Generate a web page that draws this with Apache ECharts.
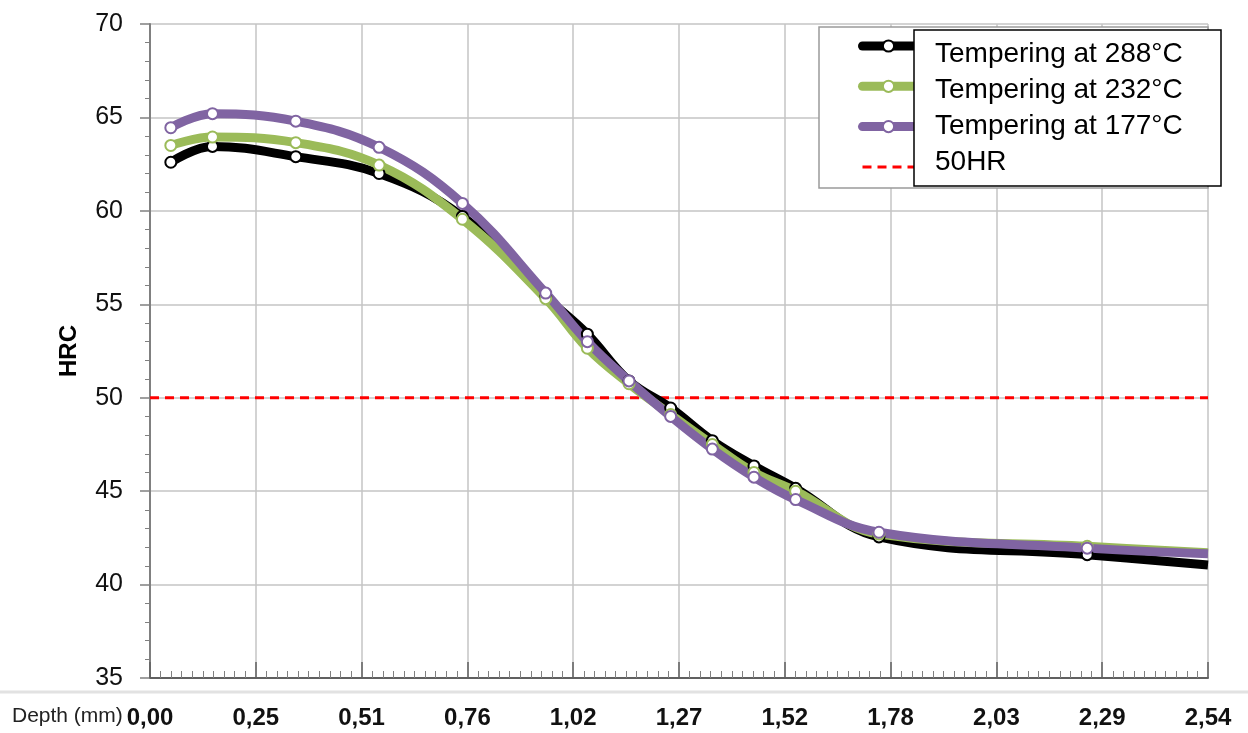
<!DOCTYPE html>
<html>
<head>
<meta charset="utf-8">
<script src="https://cdn.jsdelivr.net/npm/echarts@6/dist/echarts.min.js"></script>
<style>
  html, body { margin: 0; padding: 0; background: #fff; }
  #chart { width: 1248px; height: 733px; }
</style>
</head>
<body>
<div id="chart"></div>
<script>
// depth in mm, hardness in HRC
var depth = [0.05, 0.15, 0.35, 0.55, 0.75, 0.95, 1.05, 1.15, 1.25, 1.35, 1.45, 1.55, 1.75, 2.25, 2.54]
var hrc288 = [62.6, 63.45, 62.9, 62.0, 59.7, 55.4, 53.4, 50.9, 49.45, 47.7, 46.35, 45.15, 42.55, 41.6, 41.05]
var hrc232 = [63.5, 63.95, 63.65, 62.45, 59.55, 55.3, 52.65, 50.75, 49.1, 47.5, 46.0, 45.0, 42.7, 42.05, 41.7]
var hrc177 = [64.45, 65.2, 64.8, 63.4, 60.4, 55.6, 53.0, 50.9, 49.0, 47.25, 45.75, 44.55, 42.8, 41.95, 41.65]
var limitX = [0, 2.54]
var limitY = [50, 50]
var seriesNames = ['Tempering at 288°C', 'Tempering at 232°C', 'Tempering at 177°C', '50HR']

var font = "'Liberation Sans', Arial, sans-serif"

function points(ys) {
    return depth.map(function (x, i) {
        var p = { value: [x, ys[i]] }
        // last point sits on the plot edge, no marker there
        if (i === depth.length - 1) p.symbol = 'none'
        return p
    })
}

function curve(name, ys, color) {
    return {
        name: name,
        type: 'line',
        smooth: 0.4,
        data: points(ys),
        symbol: 'circle',
        symbolSize: 11,
        lineStyle: { color: color, width: 9 },
        itemStyle: { color: '#fff', borderColor: color, borderWidth: 2 }
    }
}

var chart = echarts.init(document.getElementById('chart'))
chart.setOption({
    animation: false,
    grid: { left: 150, right: 40, top: 24, bottom: 55 },
    legend: {
        orient: 'vertical',
        left: 858,
        top: 39,
        padding: 0,
        itemWidth: 52,
        itemHeight: 14,
        itemGap: 26.3,
        textStyle: { fontSize: 14, fontFamily: font, color: '#000' },
        data: [
            { name: seriesNames[0], lineStyle: { width: 9, cap: 'round' } },
            { name: seriesNames[1], lineStyle: { width: 9, cap: 'round' } },
            { name: seriesNames[2], lineStyle: { width: 9, cap: 'round' } },
            { name: seriesNames[3], lineStyle: { width: 3 }, itemStyle: { opacity: 0 } }
        ]
    },
    xAxis: {
        type: 'value',
        min: 0,
        max: 2.54,
        interval: 0.254,
        axisLine: { lineStyle: { color: '#606060', width: 2 } },
        axisTick: { inside: true, length: 16, lineStyle: { color: '#606060', width: 1.5 } },
        minorTick: { show: true, splitNumber: 10, length: 7, lineStyle: { color: '#808080' } },
        splitLine: { show: true, lineStyle: { color: '#c4c4c4', width: 1.5 } },
        axisLabel: {
            margin: 28,
            fontSize: 24,
            fontWeight: 'bold',
            fontFamily: "'Liberation Sans Narrow', " + font,
            color: '#111',
            formatter: function (v) { return v.toFixed(2).replace('.', ',') }
        }
    },
    yAxis: {
        type: 'value',
        min: 35,
        max: 70,
        interval: 5,
        name: 'HRC',
        nameLocation: 'middle',
        nameGap: 69,
        nameTextStyle: { fontSize: 24, fontWeight: 'bold', fontFamily: font, color: '#000' },
        axisLine: { show: true, lineStyle: { color: '#808080', width: 2 } },
        axisTick: { show: true, length: 10, lineStyle: { color: '#808080', width: 1.5 } },
        minorTick: { show: true, splitNumber: 5, length: 5, lineStyle: { color: '#808080' } },
        splitLine: { show: true, lineStyle: { color: '#c4c4c4', width: 1.5 } },
        axisLabel: { margin: 27, fontSize: 25, fontFamily: font, color: '#111' }
    },
    series: [
        curve(seriesNames[0], hrc288, '#000000'),
        curve(seriesNames[1], hrc232, '#9bbb59'),
        curve(seriesNames[2], hrc177, '#8064a2'),
        {
            name: seriesNames[3],
            type: 'line',
            data: limitX.map(function (x, i) { return [x, limitY[i]] }),
            showSymbol: false,
            symbol: 'none',
            z: 1,
            itemStyle: { color: '#ff0000' },
            lineStyle: { color: '#ff0000', width: 3, type: [9, 6] }
        }
    ],
    graphic: [
        // outer legend frame
        { type: 'rect', z: 3, shape: { x: 819, y: 27, width: 389, height: 161 },
          style: { fill: '#fff', stroke: '#9a9a9a', lineWidth: 1.5 } },
        // text box laid over the legend labels
        { type: 'rect', z: 100, shape: { x: 914, y: 30, width: 307, height: 156 },
          style: { fill: '#fff', stroke: '#000', lineWidth: 1.5 } },
        { type: 'text', z: 101, left: 935, top: 40,
          style: { text: seriesNames[0], font: '28px ' + font, fill: '#000' } },
        { type: 'text', z: 101, left: 935, top: 76,
          style: { text: seriesNames[1], font: '28px ' + font, fill: '#000' } },
        { type: 'text', z: 101, left: 935, top: 112,
          style: { text: seriesNames[2], font: '28px ' + font, fill: '#000' } },
        { type: 'text', z: 101, left: 935, top: 148,
          style: { text: seriesNames[3], font: '28px ' + font, fill: '#000' } },
        // separator above the x labels
        { type: 'line', z: 1, shape: { x1: 0, y1: 692, x2: 1248, y2: 692 },
          style: { stroke: '#e2e2e2', lineWidth: 3 } },
        { type: 'text', left: 12, top: 706,
          style: { text: 'Depth (mm)', font: "21px 'Liberation Sans Narrow', " + font, fill: '#222' } }
    ]
})
</script>
</body>
</html>
